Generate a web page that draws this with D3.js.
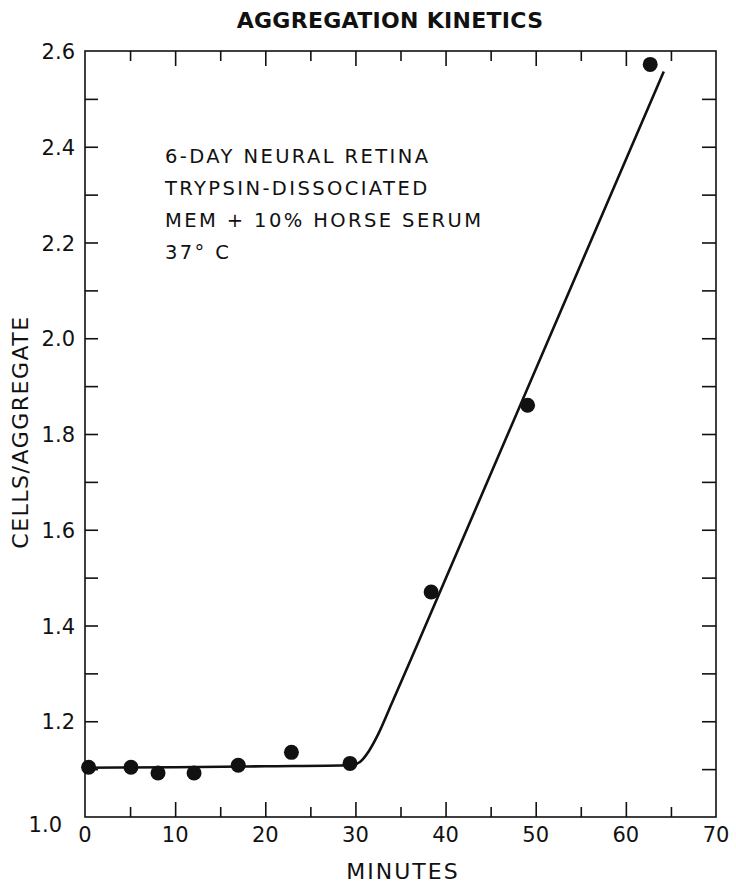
<!DOCTYPE html>
<html>
<head>
<meta charset="utf-8">
<script src="https://cdn.jsdelivr.net/npm/d3@7"></script>
<style>
  html, body { margin: 0; padding: 0; background: #fff; }
  svg { display: block; }
  text { font-family: "DejaVu Sans", "Liberation Sans", sans-serif; fill: #111; }
</style>
</head>
<body>
<svg id="chart" width="736" height="883"></svg>
<script>
// ---- data ----
const minutes = [0.4, 5.1, 8.1, 12.1, 17.0, 22.9, 29.4, 38.4, 49.1, 62.7];
const cellsPerAggregate = [1.104, 1.104, 1.092, 1.092, 1.108, 1.135, 1.112, 1.470, 1.860, 2.572];

const fitMinutes = [0, 10, 20, 29.5, 30.5, 31.5, 32.5, 34, 37, 64.2];
const fitValues  = [1.103, 1.104, 1.106, 1.108, 1.115, 1.138, 1.172, 1.236, 1.366, 2.557];

const xTickValues = [0, 10, 20, 30, 40, 50, 60, 70];
const yTickValues = [1.2, 1.4, 1.6, 1.8, 2.0, 2.2, 2.4, 2.6];
const annotationLines = ["6-DAY NEURAL RETINA", "TRYPSIN-DISSOCIATED", "MEM + 10% HORSE SERUM", "37° C"];
const titleText = "AGGREGATION KINETICS";
const xLabel = "MINUTES";
const yLabel = "CELLS/AGGREGATE";

// ---- layout ----
const svg = d3.select("#chart");
const L = 85, R = 716, T = 51, B = 817;
const x = d3.scaleLinear().domain([0, 70]).range([L, R]);
const y = d3.scaleLinear().domain([1.0, 2.6]).range([B, T]);

const ink = "#111";

// frame
svg.append("rect").attr("x", L).attr("y", T).attr("width", R - L).attr("height", B - T)
  .attr("fill", "none").attr("stroke", ink).attr("stroke-width", 1.6);

const minorX = d3.range(5, 70, 5);
const minorY = d3.range(11, 26).map(d => d / 10);

// bottom ticks (inward)
svg.append("g").attr("transform", `translate(0,${B})`)
  .call(d3.axisTop(x).tickValues(minorX).tickSize(0).tickFormat(""))
  .call(g => g.select(".domain").remove())
  .call(g => g.selectAll(".tick line").attr("y2", d => d % 10 === 0 ? -15 : -10).attr("stroke", ink).attr("stroke-width", 1.6));
// top ticks (inward)
svg.append("g").attr("transform", `translate(0,${T})`)
  .call(d3.axisBottom(x).tickValues(minorX).tickSize(0).tickFormat(""))
  .call(g => g.select(".domain").remove())
  .call(g => g.selectAll(".tick line").attr("y2", d => d % 10 === 0 ? 15 : 10).attr("stroke", ink).attr("stroke-width", 1.6));
// left ticks (inward)
svg.append("g").attr("transform", `translate(${L},0)`)
  .call(d3.axisRight(y).tickValues(minorY).tickSize(0).tickFormat(""))
  .call(g => g.select(".domain").remove())
  .call(g => g.selectAll(".tick line").attr("x2", 13).attr("stroke", ink).attr("stroke-width", 1.6));
// right ticks (inward)
svg.append("g").attr("transform", `translate(${R},0)`)
  .call(d3.axisLeft(y).tickValues(minorY).tickSize(0).tickFormat(""))
  .call(g => g.select(".domain").remove())
  .call(g => g.selectAll(".tick line").attr("x2", -14).attr("stroke", ink).attr("stroke-width", 1.6));

// tick labels
svg.append("g").selectAll("text").data(xTickValues).join("text")
  .attr("x", d => x(d)).attr("y", B + 25)
  .attr("text-anchor", "middle").attr("font-size", 21)
  .text(d => d);
svg.append("g").selectAll("text").data(yTickValues).join("text")
  .attr("x", L - 10).attr("y", d => y(d) + 8)
  .attr("text-anchor", "end").attr("font-size", 21)
  .text(d => d.toFixed(1));
svg.append("text").attr("x", L - 23).attr("y", y(1.0) + 15)
  .attr("text-anchor", "end").attr("font-size", 21).text((1.0).toFixed(1));

// title & axis labels
svg.append("text").attr("x", 390).attr("y", 28).attr("text-anchor", "middle")
  .style("font-size", "22px").style("font-weight", "bold").style("letter-spacing", "0.3px").text(titleText);
svg.append("text").attr("x", 403).attr("y", 879).attr("text-anchor", "middle")
  .attr("font-size", 22).attr("letter-spacing", 2).text(xLabel);
svg.append("text").attr("transform", `translate(28,432) rotate(-90)`).attr("text-anchor", "middle")
  .attr("font-size", 22).attr("letter-spacing", 1.5).text(yLabel);

// annotation
svg.append("g").selectAll("text").data(annotationLines).join("text")
  .attr("x", 165).attr("y", (d, i) => 163 + i * 32)
  .attr("font-size", 19.5).attr("letter-spacing", 2.4).text(d => d);

// fitted curve
const fit = fitMinutes.map((m, i) => [m, fitValues[i]]);
svg.append("path").datum(fit)
  .attr("fill", "none").attr("stroke", ink).attr("stroke-width", 2.6)
  .attr("d", d3.line().x(d => x(d[0])).y(d => y(d[1])).curve(d3.curveMonotoneX));

// points
svg.append("g").selectAll("circle").data(minutes).join("circle")
  .attr("cx", d => x(d)).attr("cy", (d, i) => y(cellsPerAggregate[i]))
  .attr("r", 7.5).attr("fill", ink);
</script>
</body>
</html>
